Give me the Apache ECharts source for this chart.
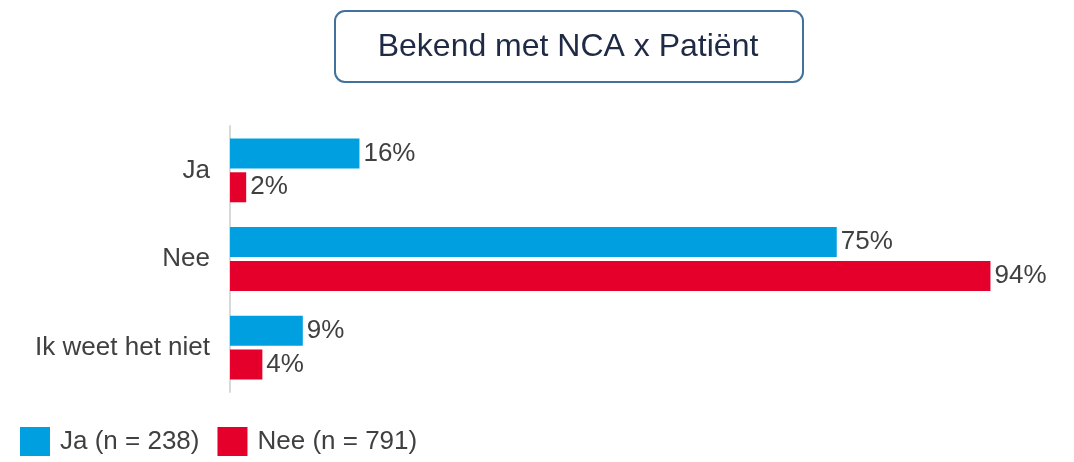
<!DOCTYPE html>
<html>
<head>
<meta charset="utf-8">
<script src="https://cdn.jsdelivr.net/npm/echarts@6/dist/echarts.min.js"></script>
<style>
  html, body { margin: 0; padding: 0; background: #fff; }
  #main { width: 1074px; height: 462px; }
</style>
</head>
<body>
<div id="main"></div>
<script>
var categories = ['Ja', 'Nee', 'Ik weet het niet'];
var jaValues = [16, 75, 9];
var neeValues = [2, 94, 4];
var seriesNames = ['Ja (n = 238)', 'Nee (n = 791)'];
var titleText = 'Bekend met NCA x Patiënt';

var myChart = echarts.init(document.getElementById('main'));

var labelStyle = {
    show: true,
    position: 'right',
    distance: 4,
    formatter: '{c}%',
    color: '#404040',
    fontSize: 26,
    fontFamily: 'Liberation Sans, Arial'
};

var option = {
    animation: false,
    textStyle: { fontFamily: 'Liberation Sans, Arial' },
    // titel in afgeronde box
    graphic: [
        {
            type: 'rect',
            left: 334,
            top: 10,
            shape: { width: 468, height: 71, r: 10 },
            style: { fill: '#fff', stroke: '#41719c', lineWidth: 2 }
        },
        {
            type: 'text',
            x: 568,
            y: 47,
            style: {
                text: titleText,
                fill: '#1f2a44',
                font: '32px "Liberation Sans", Arial',
                textAlign: 'center',
                textVerticalAlign: 'middle'
            }
        }
    ],
    legend: {
        left: 20,
        bottom: 6,
        padding: 0,
        itemWidth: 30,
        itemHeight: 29,
        itemGap: 18,
        icon: 'rect',
        textStyle: { color: '#404040', fontSize: 26, padding: [0, 0, 0, 5] },
        data: seriesNames
    },
    grid: {
        left: 230,
        right: 35,
        top: 126,
        bottom: 70
    },
    xAxis: {
        type: 'value',
        min: 0,
        max: 100,
        show: false
    },
    yAxis: {
        type: 'category',
        inverse: true,
        data: categories,
        axisLine: { show: true, lineStyle: { color: '#d9d9d9', width: 2 } },
        axisTick: { show: false },
        axisLabel: { color: '#404040', fontSize: 26, margin: 20 }
    },
    series: [
        {
            name: seriesNames[0],
            type: 'bar',
            data: jaValues,
            barWidth: 30,
            barGap: '13%',
            itemStyle: { color: '#009fdf' },
            label: labelStyle
        },
        {
            name: seriesNames[1],
            type: 'bar',
            data: neeValues,
            barWidth: 30,
            itemStyle: { color: '#e4002b' },
            label: labelStyle
        }
    ]
};

myChart.setOption(option);
</script>
</body>
</html>
